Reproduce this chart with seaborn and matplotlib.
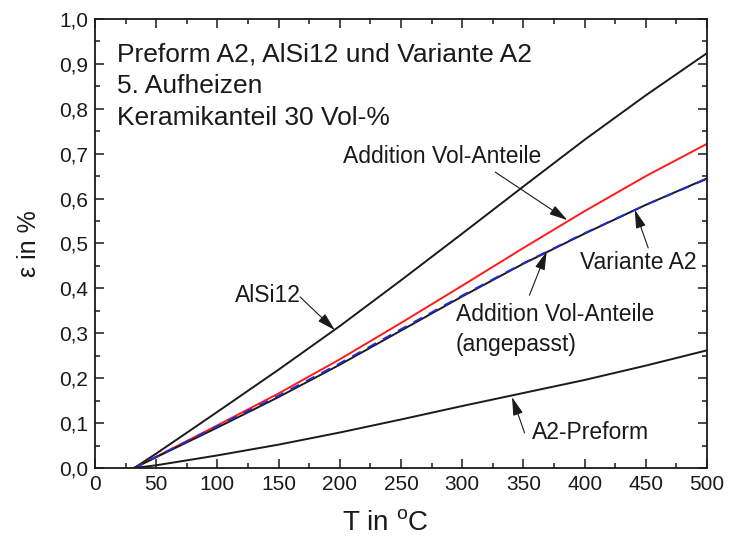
import numpy as np
import pandas as pd
import matplotlib
matplotlib.use("Agg")
import matplotlib.pyplot as plt
from matplotlib.ticker import MultipleLocator, FuncFormatter
import seaborn as sns

# ==============================
# Data
# ==============================
temp = [32, 50, 100, 150, 200, 250, 300, 350, 400, 450, 500]

alsi12 = [0.0, 0.032, 0.125, 0.219, 0.316, 0.418, 0.522, 0.627, 0.731, 0.830, 0.924]
addition = [0.0, 0.025, 0.095, 0.166, 0.242, 0.323, 0.406, 0.490, 0.572, 0.650, 0.722]
variante_a2 = [0.0, 0.024, 0.090, 0.158, 0.230, 0.306, 0.382, 0.455, 0.522, 0.586, 0.645]
addition_fit = [0.0, 0.025, 0.093, 0.161, 0.233, 0.309, 0.384, 0.456, 0.523, 0.586, 0.644]
preform_a2 = [0.0, 0.006, 0.028, 0.052, 0.079, 0.108, 0.138, 0.167, 0.196, 0.228, 0.262]

x_ticks = np.arange(0, 501, 50)
y_ticks = np.arange(0, 1.01, 0.1)

# ==============================
# Style
# ==============================
sns.set_style("ticks")
plt.rcParams["font.family"] = ["Liberation Sans", "DejaVu Sans"]
plt.rcParams["mathtext.fontset"] = "custom"
plt.rcParams["mathtext.rm"] = "Liberation Sans"

fig = plt.figure(figsize=(7.29, 5.46), dpi=100)
ax = fig.add_axes([0.1303, 0.1429, 0.8395, 0.8223])

# ==============================
# Curves
# ==============================
sns.lineplot(x=temp, y=alsi12, ax=ax, color="#1a1a1a", lw=1.4)
sns.lineplot(x=temp, y=addition, ax=ax, color="#ff1a1a", lw=1.4)
sns.lineplot(x=temp, y=variante_a2, ax=ax, color="#1a1a1a", lw=1.4)
sns.lineplot(x=temp, y=addition_fit, ax=ax, color="#1f2bd6", lw=1.4,
             linestyle=(0, (5, 4)))
sns.lineplot(x=temp, y=preform_a2, ax=ax, color="#1a1a1a", lw=1.4)

# ==============================
# Axes
# ==============================
ax.set_xlim(0, 500)
ax.set_ylim(0, 1.0)
ax.set_xticks(x_ticks)
ax.set_yticks(y_ticks)
ax.xaxis.set_minor_locator(MultipleLocator(25))
ax.yaxis.set_minor_locator(MultipleLocator(0.05))
ax.yaxis.set_major_formatter(FuncFormatter(lambda v, p: f"{v:.1f}".replace(".", ",")))

ax.tick_params(which="both", direction="in", top=True, right=True,
               color="#1a1a1a", width=1.1, labelsize=15, labelcolor="#1a1a1a")
ax.tick_params(which="major", length=6.5, pad=5)
ax.tick_params(which="minor", length=3.6)
for s in ax.spines.values():
    s.set_linewidth(1.3)
    s.set_color("#1a1a1a")

ax.set_xlabel(r"T in $^{\rm o}$C", fontsize=20, color="#1a1a1a")
ax.set_ylabel("ε in %", fontsize=18, color="#1a1a1a")
ax.xaxis.set_label_coords(0.474, -0.095)
ax.yaxis.set_label_coords(-0.088, 0.5)

# ==============================
# Annotations
# ==============================
head = dict(fontsize=19, color="#1a1a1a")
ax.text(18, 0.922, "Preform A2, AlSi12 und Variante A2", va="center", **head)
ax.text(18, 0.851, "5. Aufheizen", va="center", **head)
ax.text(18, 0.780, "Keramikanteil 30 Vol-%", va="center", **head)

txt = dict(fontsize=16.5, color="#1a1a1a")
arrow = dict(arrowstyle="-|>,head_length=0.8,head_width=0.22", color="#1a1a1a",
             lw=0.8, mutation_scale=14, shrinkA=0, shrinkB=0)

ax.text(203, 0.693, "Addition Vol-Anteile", va="center", **txt)
ax.annotate("", xy=(386, 0.552), xytext=(327, 0.659), arrowprops=arrow)

ax.text(114, 0.385, "AlSi12", va="center", **txt)
ax.annotate("", xy=(196, 0.307), xytext=(167.5, 0.381), arrowprops=arrow)

ax.text(396, 0.457, "Variante A2", va="center", **txt)
ax.annotate("", xy=(441, 0.575), xytext=(452, 0.49), arrowprops=arrow)

ax.text(295, 0.341, "Addition Vol-Anteile", va="center", **txt)
ax.text(295, 0.274, "(angepasst)", va="center", **txt)
ax.annotate("", xy=(369, 0.482), xytext=(355, 0.385), arrowprops=arrow)

ax.text(357, 0.080, "A2-Preform", va="center", **txt)
ax.annotate("", xy=(340.7, 0.158), xytext=(351, 0.078), arrowprops=arrow)

fig.savefig("out.png", dpi=100)
